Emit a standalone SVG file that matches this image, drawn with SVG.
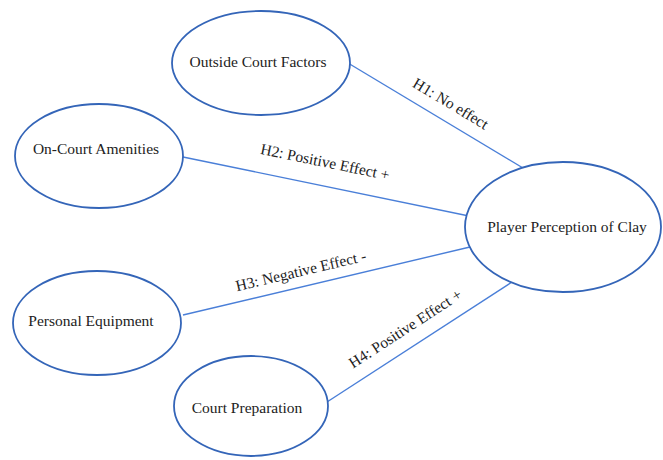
<svg xmlns="http://www.w3.org/2000/svg" width="663" height="460" viewBox="0 0 663 460">
<style>
.node ellipse{fill:#fff;stroke:#3465b8;stroke-width:1.8}
.node text{font-family:"Liberation Serif","Times New Roman",serif;font-size:15.5px;fill:#222;text-anchor:middle}
.edge line{stroke:#4a7fd8;stroke-width:1.4}
.lbl{font-family:"Liberation Serif","Times New Roman",serif;font-size:15.5px;fill:#222;text-anchor:middle}
</style>
<rect width="663" height="460" fill="#fff"/>
<g id="connectors" class="edge">
<line x1="348" y1="63" x2="523" y2="168"/>
<line x1="183" y1="157" x2="469" y2="216"/>
<line x1="183" y1="315" x2="470" y2="247"/>
<line x1="327" y1="402" x2="512" y2="282"/>
<text class="lbl" transform="translate(448,108) rotate(31)">H1: No effect</text>
<text class="lbl" transform="translate(324,167) rotate(11.6)">H2: Positive Effect +</text>
<text class="lbl" transform="translate(302,276) rotate(-13.3)">H3: Negative Effect -</text>
<text class="lbl" transform="translate(408,333) rotate(-33)">H4: Positive Effect +</text>
</g>
<g id="outside" class="node"><ellipse cx="261" cy="63" rx="89" ry="52"/><text x="258" y="67">Outside Court Factors</text></g>
<g id="amenities" class="node"><ellipse cx="99" cy="156" rx="84" ry="52"/><text x="96" y="154">On-Court Amenities</text></g>
<g id="equipment" class="node"><ellipse cx="97" cy="323" rx="84" ry="52"/><text x="91" y="326">Personal Equipment</text></g>
<g id="preparation" class="node"><ellipse cx="251" cy="406" rx="77" ry="50"/><text x="247" y="413">Court Preparation</text></g>
<g id="perception" class="node"><ellipse cx="563" cy="227" rx="98" ry="65"/><text x="567" y="232">Player Perception of Clay</text></g>
</svg>
